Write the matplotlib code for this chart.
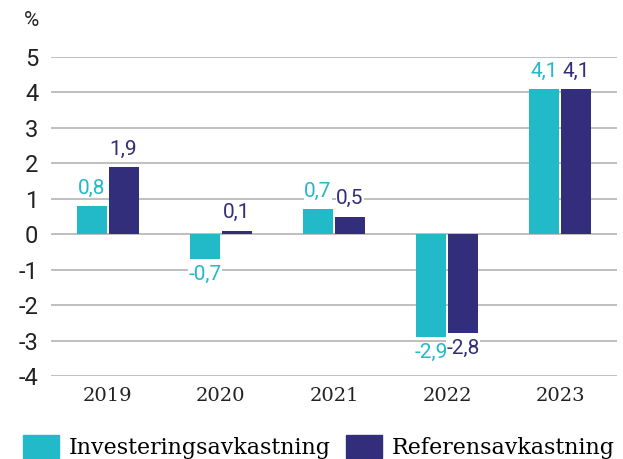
import numpy as np
import matplotlib.pyplot as plt

years = ["2019", "2020", "2021", "2022", "2023"]
invest = [0.8, -0.7, 0.7, -2.9, 4.1]
referens = [1.9, 0.1, 0.5, -2.8, 4.1]
series_names = ["Investeringsavkastning", "Referensavkastning"]

cyan = "#22b9c9"
navy = "#332e7b"
grid_col = "#b4b4b4"

fig = plt.figure(figsize=(6.23, 4.59), dpi=100)
ax = fig.add_axes([51/623, 1 - 376/459, 566/623, 319/459])

x = np.arange(len(years))
w = 0.265
off = 0.1413

ax.bar(x - off, invest, w, color=cyan, zorder=2)
ax.bar(x + off, referens, w, color=navy, zorder=2)

def label(v, xpos, col):
    txt = ("%.1f" % v).replace(".", ",")
    if v >= 0:
        ax.annotate(txt, (xpos, v), xytext=(0, 6), textcoords="offset points",
                    ha="center", va="bottom", color=col, fontsize=15,
                    family="Roboto", zorder=3,
                    bbox=dict(facecolor="white", edgecolor="none", pad=0.2))
    else:
        ax.annotate(txt, (xpos, v), xytext=(0, -4), textcoords="offset points",
                    ha="center", va="top", color=col, fontsize=15,
                    family="Roboto", zorder=3,
                    bbox=dict(facecolor="white", edgecolor="none", pad=0.2))

for i in range(len(years)):
    label(invest[i], x[i] - off, cyan)
    label(referens[i], x[i] + off, navy)

ax.set_xlim(-0.5, len(years) - 0.5)
ax.set_ylim(-4, 5)
ax.set_yticks(range(-4, 6))
ax.set_yticklabels([str(t) for t in range(-4, 6)], family="Roboto", fontsize=17, color="#222222")
ax.set_xticks(x)
ax.set_xticklabels(years, family="DejaVu Serif", fontsize=14, color="#222222")
ax.tick_params(axis="y", length=0, pad=9)
ax.tick_params(axis="x", length=0, pad=8)
ax.grid(axis="y", color=grid_col, lw=1.2, zorder=0)
for s in ax.spines.values():
    s.set_visible(False)
ax.set_axisbelow(True)

fig.text(24/623, 1 - 20/459, "%", family="Roboto", fontsize=15, color="#222222",
         ha="left", va="center")

handles = [plt.Rectangle((0, 0), 1, 1, color=cyan), plt.Rectangle((0, 0), 1, 1, color=navy)]
fig.legend(handles, series_names, loc="upper left", bbox_to_anchor=(23/623, 1 - 435/459),
           ncol=2, frameon=False, borderpad=0, borderaxespad=0,
           handlelength=1.62, handleheight=1.2,
           handletextpad=0.45, columnspacing=0.7,
           prop=dict(family="DejaVu Serif", size=15.9))

fig.savefig("out.png", dpi=100)
